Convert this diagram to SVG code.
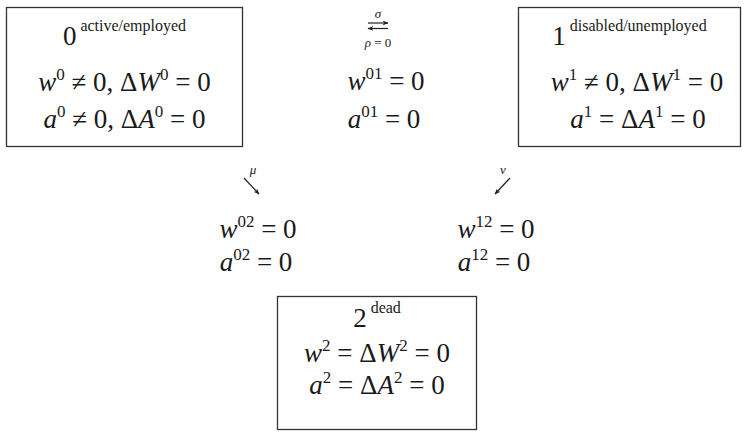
<svg xmlns="http://www.w3.org/2000/svg" width="747" height="432" viewBox="0 0 747 432" font-family="'Liberation Serif', 'DejaVu Serif', serif">
<style>
text{font-family:'Liberation Serif','DejaVu Serif',serif;fill:#1a1a1a}
.m{font-size:27px}
.i{font-style:italic}
.s{font-size:17px}
.l{font-size:16px}
.t{font-size:13px}
.box{fill:#fff;stroke:#333;stroke-width:1.3}
.c{stroke:#222;stroke-width:1.2;fill:none}
</style>
<defs>
<marker id="ah" viewBox="0 0 10 10" refX="9" refY="5" markerWidth="6" markerHeight="6" orient="auto" markerUnits="userSpaceOnUse">
<path d="M0,1 L10,5 L0,9 L3,5 Z" fill="#222"/>
</marker>
</defs>
<rect width="747" height="432" fill="#fff"/>
<g id="node0">
<rect class="box" x="6.5" y="7.5" width="236" height="139"/>
<text class="m" x="124.5" y="45" text-anchor="middle">0<tspan class="l" dx="4" dy="-14">active/employed</tspan></text>
<text class="m" x="124.5" y="91" text-anchor="middle"><tspan class="i">w</tspan><tspan class="s" dy="-11">0</tspan><tspan dy="11"> ≠ 0, Δ</tspan><tspan class="i">W</tspan><tspan class="s" dy="-11">0</tspan><tspan dy="11"> = 0</tspan></text>
<text class="m" x="124.5" y="128" text-anchor="middle"><tspan class="i">a</tspan><tspan class="s" dy="-11">0</tspan><tspan dy="11"> ≠ 0, Δ</tspan><tspan class="i">A</tspan><tspan class="s" dy="-11">0</tspan><tspan dy="11"> = 0</tspan></text>
</g>
<g id="node01">
<text class="t i" x="378" y="18" text-anchor="middle">σ</text>
<text class="t" x="378" y="47" text-anchor="middle"><tspan class="i">ρ</tspan> = 0</text>
<text class="m" x="386" y="90" text-anchor="middle"><tspan class="i">w</tspan><tspan class="s" dy="-11">01</tspan><tspan dy="11"> = 0</tspan></text>
<text class="m" x="384" y="128" text-anchor="middle"><tspan class="i">a</tspan><tspan class="s" dy="-11">01</tspan><tspan dy="11"> = 0</tspan></text>
</g>
<g id="node1">
<rect class="box" x="518.5" y="7.5" width="222" height="139"/>
<text class="m" x="629.5" y="45" text-anchor="middle">1<tspan class="l" dx="4" dy="-14">disabled/unemployed</tspan></text>
<text class="m" x="637" y="91" text-anchor="middle"><tspan class="i">w</tspan><tspan class="s" dy="-11">1</tspan><tspan dy="11"> ≠ 0, Δ</tspan><tspan class="i">W</tspan><tspan class="s" dy="-11">1</tspan><tspan dy="11"> = 0</tspan></text>
<text class="m" x="638" y="128" text-anchor="middle"><tspan class="i">a</tspan><tspan class="s" dy="-11">1</tspan><tspan dy="11"> = Δ</tspan><tspan class="i">A</tspan><tspan class="s" dy="-11">1</tspan><tspan dy="11"> = 0</tspan></text>
</g>
<g id="node02">
<text class="t i" x="253" y="174" text-anchor="middle">μ</text>
<text class="m" x="258" y="238" text-anchor="middle"><tspan class="i">w</tspan><tspan class="s" dy="-11">02</tspan><tspan dy="11"> = 0</tspan></text>
<text class="m" x="256" y="271" text-anchor="middle"><tspan class="i">a</tspan><tspan class="s" dy="-11">02</tspan><tspan dy="11"> = 0</tspan></text>
</g>
<g id="node12">
<text class="t i" x="503" y="174" text-anchor="middle">ν</text>
<text class="m" x="496" y="238" text-anchor="middle"><tspan class="i">w</tspan><tspan class="s" dy="-11">12</tspan><tspan dy="11"> = 0</tspan></text>
<text class="m" x="494" y="271" text-anchor="middle"><tspan class="i">a</tspan><tspan class="s" dy="-11">12</tspan><tspan dy="11"> = 0</tspan></text>
</g>
<g id="node2">
<rect class="box" x="277.5" y="296.5" width="199" height="133"/>
<text class="m" x="377" y="327" text-anchor="middle">2<tspan class="l" dx="4" dy="-14">dead</tspan></text>
<text class="m" x="377" y="362" text-anchor="middle"><tspan class="i">w</tspan><tspan class="s" dy="-11">2</tspan><tspan dy="11"> = Δ</tspan><tspan class="i">W</tspan><tspan class="s" dy="-11">2</tspan><tspan dy="11"> = 0</tspan></text>
<text class="m" x="377" y="394" text-anchor="middle"><tspan class="i">a</tspan><tspan class="s" dy="-11">2</tspan><tspan dy="11"> = Δ</tspan><tspan class="i">A</tspan><tspan class="s" dy="-11">2</tspan><tspan dy="11"> = 0</tspan></text>
</g>
<g id="connectors">
<line class="c" x1="368" y1="23" x2="388" y2="23" marker-end="url(#ah)"/>
<line class="c" x1="388" y1="28.5" x2="368" y2="28.5" marker-end="url(#ah)"/>
<line class="c" x1="244" y1="178" x2="259" y2="194" marker-end="url(#ah)"/>
<line class="c" x1="510" y1="178" x2="495" y2="194" marker-end="url(#ah)"/>
</g>
</svg>
